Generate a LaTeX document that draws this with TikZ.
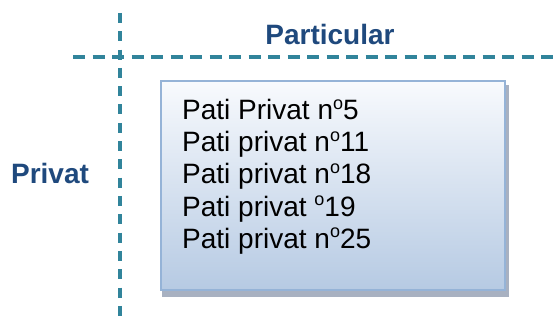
\documentclass[tikz,border=0pt]{standalone}
\usepackage{fontspec}
\setmainfont{Liberation Sans}
\definecolor{labelblue}{HTML}{1F497D}
\definecolor{dashteal}{HTML}{31849B}
\definecolor{boxborder}{HTML}{95B3D7}
\definecolor{boxtop}{HTML}{F8FAFD}
\definecolor{boxbottom}{HTML}{B6CAE3}
\definecolor{shadowgrey}{HTML}{A8B1C1}
\newcommand{\ordo}{{\fontsize{18}{18}\selectfont\raisebox{10.5pt}{o}}}
\tikzset{
  axisline/.style={draw=dashteal, line width=3.2pt},
  axislabel/.style={font=\fontsize{28}{32}\selectfont\bfseries, text=labelblue, inner sep=0pt},
  itemtext/.style={font=\fontsize{28}{32}\selectfont, text=black, inner sep=0pt, anchor=base west},
  listbox/.style={draw=boxborder, line width=2.2pt, top color=boxtop, bottom color=boxbottom},
  boxshadow/.style={fill=shadowgrey}
}
\begin{document}
\begin{tikzpicture}[x=1pt, y=-1pt]
\useasboundingbox (0,0) rectangle (558,329);
% axes
\coordinate (vtop) at (120,13);
\coordinate (vbot) at (120,322);
\coordinate (hleft) at (73,57);
\coordinate (hright) at (558,57);
\draw[axisline, dash pattern=on 10pt off 8.3pt] (vtop) -- (vbot);
\draw[axisline, dash pattern=on 12pt off 7.5pt] (hleft) -- (hright);
% labels
\node[axislabel, anchor=base] (particular) at (330,45) {Particular};
\node[axislabel, anchor=base] (privat) at (50,183) {Privat};
% box with shadow
\fill[boxshadow] (162,85) rectangle (509,297);
\path[listbox] (161,81) rectangle (505,290);
% list items
\node[itemtext] (l1) at (182,120) {Pati Privat n\ordo5};
\node[itemtext] (l2) at (182,152) {Pati privat n\ordo11};
\node[itemtext] (l3) at (182,184) {Pati privat n\ordo18};
\node[itemtext] (l4) at (182,216) {Pati privat \ordo19};
\node[itemtext] (l5) at (182,248) {Pati privat n\ordo25};
\end{tikzpicture}
\end{document}
